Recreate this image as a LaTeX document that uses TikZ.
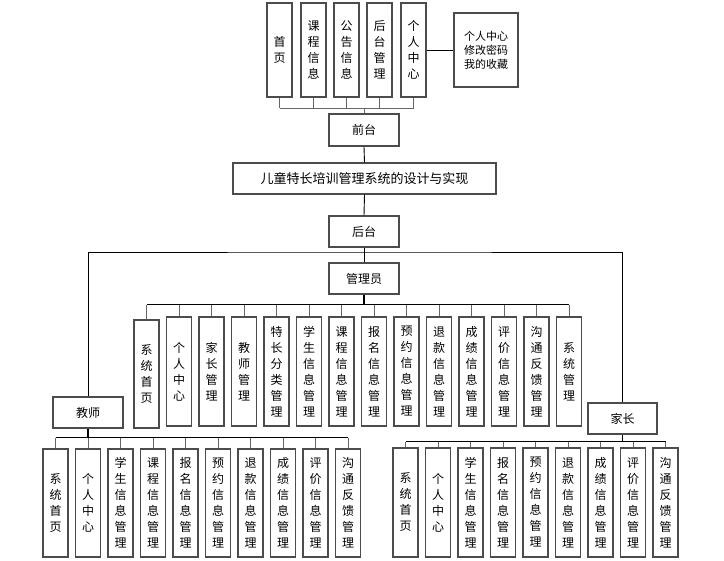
\documentclass[tikz,border=0pt]{standalone}
\usepackage{fontspec}
\newfontfamily\cjk{Noto Sans CJK SC}
\begin{document}
\begin{tikzpicture}[x=1pt,y=-1pt,
  box/.style={draw=black!70, line width=1.1pt, inner sep=0pt, align=center, fill=white,
    font=\cjk\fontsize{12}{16}\selectfont},
  hbox/.style={box, minimum width=70pt, minimum height=31pt},
  abox/.style={box, minimum width=25pt, minimum height=109pt},
  lbox/.style={box, minimum width=25pt, minimum height=108pt},
  conn/.style={draw=black!60, line width=0.9pt},
  main/.style={draw=black, line width=0.9pt},
  bus/.style={draw=black, line width=1pt},
  trunk/.style={draw=black, line width=1.8pt}
]
\useasboundingbox (0,0) rectangle (724,561);
% top row
\node[box, minimum width=25pt, minimum height=94pt] (t1) at (279.5,50) {首\\页};
\node[box, minimum width=25pt, minimum height=94pt] (t2) at (313.5,50) {课\\程\\信\\息};
\node[box, minimum width=25pt, minimum height=94pt] (t3) at (346.5,50) {公\\告\\信\\息};
\node[box, minimum width=25pt, minimum height=94pt] (t4) at (379.5,50) {后\\台\\管\\理};
\node[box, minimum width=25pt, minimum height=94pt] (t5) at (413.5,50) {个\\人\\中\\心};
\node[box, minimum width=64pt, minimum height=74pt, font=\cjk\fontsize{11}{14}\selectfont] (tr) at (486,50) {个人中心\\修改密码\\我的收藏};
\node[hbox, minimum height=32pt] (qt) at (364,130) {前台};
\node[box, minimum width=263pt, minimum height=31pt, font=\cjk\fontsize{13}{16}\selectfont] (title) at (364.5,178.5) {儿童特长培训管理系统的设计与实现};
\node[hbox] (ht) at (364,231.5) {后台};
\node[hbox] (gly) at (364,278.5) {管理员};
\node[hbox] (js) at (88,412.5) {教师};
\node[hbox, minimum width=69pt] (jz) at (622.5,418.5) {家长};
% admin
\node[box, minimum width=25pt, minimum height=108pt] (a1) at (146.5,374) {系\\统\\首\\页};
\node[abox] (a2) at (179,371.5) {个\\人\\中\\心};
\node[abox] (a3) at (211.5,371.5) {家\\长\\管\\理};
\node[abox] (a4) at (244,371.5) {教\\师\\管\\理};
\node[abox] (a5) at (276.5,371.5) {特\\长\\分\\类\\管\\理};
\node[abox] (a6) at (309,371.5) {学\\生\\信\\息\\管\\理};
\node[abox] (a7) at (341.5,371.5) {课\\程\\信\\息\\管\\理};
\node[abox] (a8) at (374,371.5) {报\\名\\信\\息\\管\\理};
\node[abox] (a9) at (406.5,371.5) {预\\约\\信\\息\\管\\理};
\node[abox] (a10) at (439,371.5) {退\\款\\信\\息\\管\\理};
\node[abox] (a11) at (471.5,371.5) {成\\绩\\信\\息\\管\\理};
\node[abox] (a12) at (504,371.5) {评\\价\\信\\息\\管\\理};
\node[abox] (a13) at (536.5,371.5) {沟\\通\\反\\馈\\管\\理};
\node[abox] (a14) at (569,371.5) {系\\统\\管\\理};
% teacher
\node[lbox] (b1) at (55.5,503) {系\\统\\首\\页};
\node[lbox] (b2) at (88,503) {个\\人\\中\\心};
\node[lbox] (b3) at (120.5,503) {学\\生\\信\\息\\管\\理};
\node[lbox] (b4) at (153,503) {课\\程\\信\\息\\管\\理};
\node[lbox] (b5) at (185.5,503) {报\\名\\信\\息\\管\\理};
\node[lbox] (b6) at (218,503) {预\\约\\信\\息\\管\\理};
\node[lbox] (b7) at (250.5,503) {退\\款\\信\\息\\管\\理};
\node[lbox] (b8) at (283,503) {成\\绩\\信\\息\\管\\理};
\node[lbox] (b9) at (315.5,503) {评\\价\\信\\息\\管\\理};
\node[lbox] (b10) at (348,503) {沟\\通\\反\\馈\\管\\理};
% parent
\node[lbox, minimum height=109pt] (c1) at (405.5,502.5) {系\\统\\首\\页};
\node[lbox, minimum height=109pt] (c2) at (438,502.5) {个\\人\\中\\心};
\node[lbox, minimum height=109pt] (c3) at (470.5,502.5) {学\\生\\信\\息\\管\\理};
\node[lbox, minimum height=109pt] (c4) at (503,502.5) {报\\名\\信\\息\\管\\理};
\node[lbox, minimum height=109pt] (c5) at (535.5,502.5) {预\\约\\信\\息\\管\\理};
\node[lbox, minimum height=109pt] (c6) at (568,502.5) {退\\款\\信\\息\\管\\理};
\node[lbox, minimum height=109pt] (c7) at (600.5,502.5) {成\\绩\\信\\息\\管\\理};
\node[lbox, minimum height=109pt] (c8) at (633,502.5) {评\\价\\信\\息\\管\\理};
\node[lbox, minimum height=109pt] (c9) at (665.5,502.5) {沟\\通\\反\\馈\\管\\理};
% connectors top
\coordinate (tb) at (364,108);
\foreach \n in {t1,t2,t3,t4,t5} \draw[conn] (\n.south) -- (\n.south |- tb);
\draw[conn] (t1.south |- tb) -- (t5.south |- tb);
\draw[conn] (tb) -- (qt.north);
\draw[main] (t5.east) -- (tr.west);
\draw[main] (qt.south) -- (title.north);
\draw[main] (title.south) -- (ht.north);
\draw[main] (ht.south) -- (gly.north);
\coordinate (hb) at (364,252);
\draw[main] (js.north) |- (hb) -| (jz.north);
% admin bus
\coordinate (ab) at (364,305);
\draw[trunk] (gly.south) -- (ab);
\foreach \i in {1,...,14} \draw[conn] (a\i.north) -- (a\i.north |- ab);
\draw[bus] (a1.north |- ab) -- (a14.north |- ab);
% teacher bus
\coordinate (bb) at (88,438);
\draw[trunk] (js.south) -- (bb);
\foreach \i in {1,...,10} \draw[conn] (b\i.north) -- (b\i.north |- bb);
\draw[bus] (b1.north |- bb) -- (b10.north |- bb);
% parent bus
\coordinate (cb) at (622.5,442);
\draw[trunk] (jz.south) -- (cb);
\foreach \i in {1,...,9} \draw[conn] (c\i.north) -- (c\i.north |- cb);
\draw[bus] (c1.north |- cb) -- (c9.north |- cb);
\end{tikzpicture}
\end{document}
